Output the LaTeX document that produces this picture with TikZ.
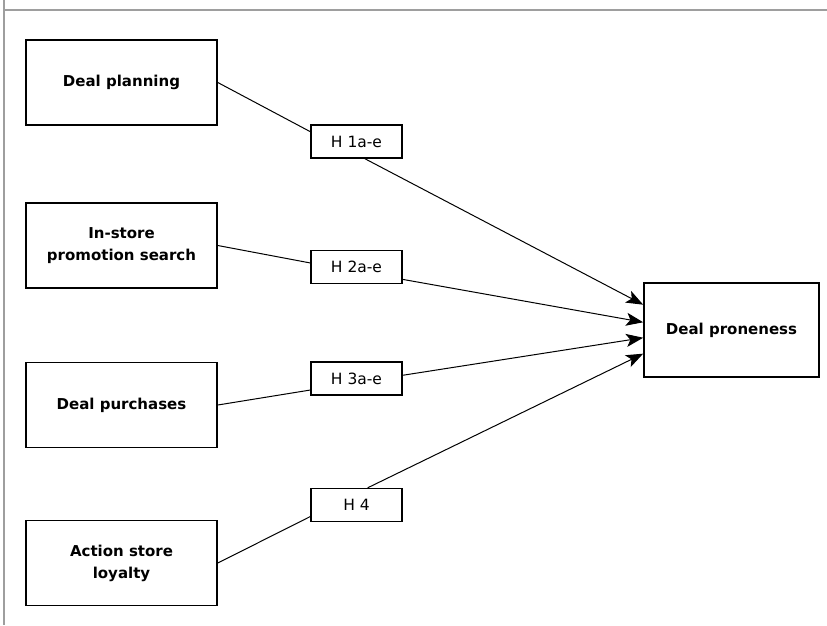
\documentclass[tikz,border=0pt]{standalone}
\usepackage{fontspec}
\setmainfont{DejaVu Sans}
\usetikzlibrary{arrows.meta}

\begin{document}
\begin{tikzpicture}[x=1pt,y=-1pt,
  factor/.style={draw, line width=1.6pt, minimum width=191pt, minimum height=85pt,
    inner sep=0pt, align=center, font=\fontsize{15}{22}\selectfont\bfseries},
  hyp/.style={draw, line width=1.4pt, minimum width=91pt, minimum height=33pt,
    inner sep=0pt, font=\fontsize{15.5}{18}\selectfont},
  link/.style={line width=1pt},
  effect/.style={line width=1pt, -{Stealth[length=17pt,width=13pt,inset=4pt]}},
  frame/.style={draw=black!38, line width=2.5pt}]
\useasboundingbox (0,0) rectangle (827,625);
%Grey frame of the figure
\coordinate (frameTop) at (4,0);
\coordinate (frameBottom) at (4,625);
\coordinate (ruleLeft) at (4,9.5);
\coordinate (ruleRight) at (827,9.5);
\draw [frame] (frameTop) -- (frameBottom);
\draw [frame, line width=2pt] (ruleLeft) -- (ruleRight);
%Antecedents on the left
\coordinate (c1) at (121.5,82.5);
\coordinate (c2) at (121.5,245.5);
\coordinate (c3) at (121.5,405);
\coordinate (c4) at (121.5,563);
\node [factor] (planning) at (c1) {Deal planning};
\node [factor] (search) at (c2) {In-store\\promotion search};
\node [factor] (purchases) at (c3) {Deal purchases};
\node [factor] (loyalty) at (c4) {Action store\\loyalty};
%Hypotheses in the middle
\coordinate (h1) at (356.5,141.5);
\coordinate (h2) at (356.5,267);
\coordinate (h3) at (356.5,378.5);
\coordinate (h4) at (356.5,505);
\node [hyp] (hyp1) at (h1) {H 1a-e};
\node [hyp] (hyp2) at (h2) {H 2a-e};
\node [hyp] (hyp3) at (h3) {H 3a-e};
\node [hyp] (hyp4) at (h4) {H 4};
%Outcome on the right
\coordinate (out) at (731.5,330);
\node [factor, minimum width=175pt, minimum height=94pt] (proneness) at (out) {Deal proneness};
%Lines into the hypotheses
\draw [link] (planning.east) -- (hyp1.168);
\draw [link] (search.east) -- (hyp2.175);
\draw [link] (purchases.east) -- (hyp3.194);
\draw [link] (loyalty.east) -- (hyp4.194);
%Arrows into deal proneness
\draw [effect] (hyp1.-64) -- (proneness.164);
\draw [effect] (hyp2.-15) -- (proneness.175);
\draw [effect] (hyp3.4) -- (proneness.185);
\draw [effect] (hyp4.57) -- (proneness.195);
\end{tikzpicture}
\end{document}
